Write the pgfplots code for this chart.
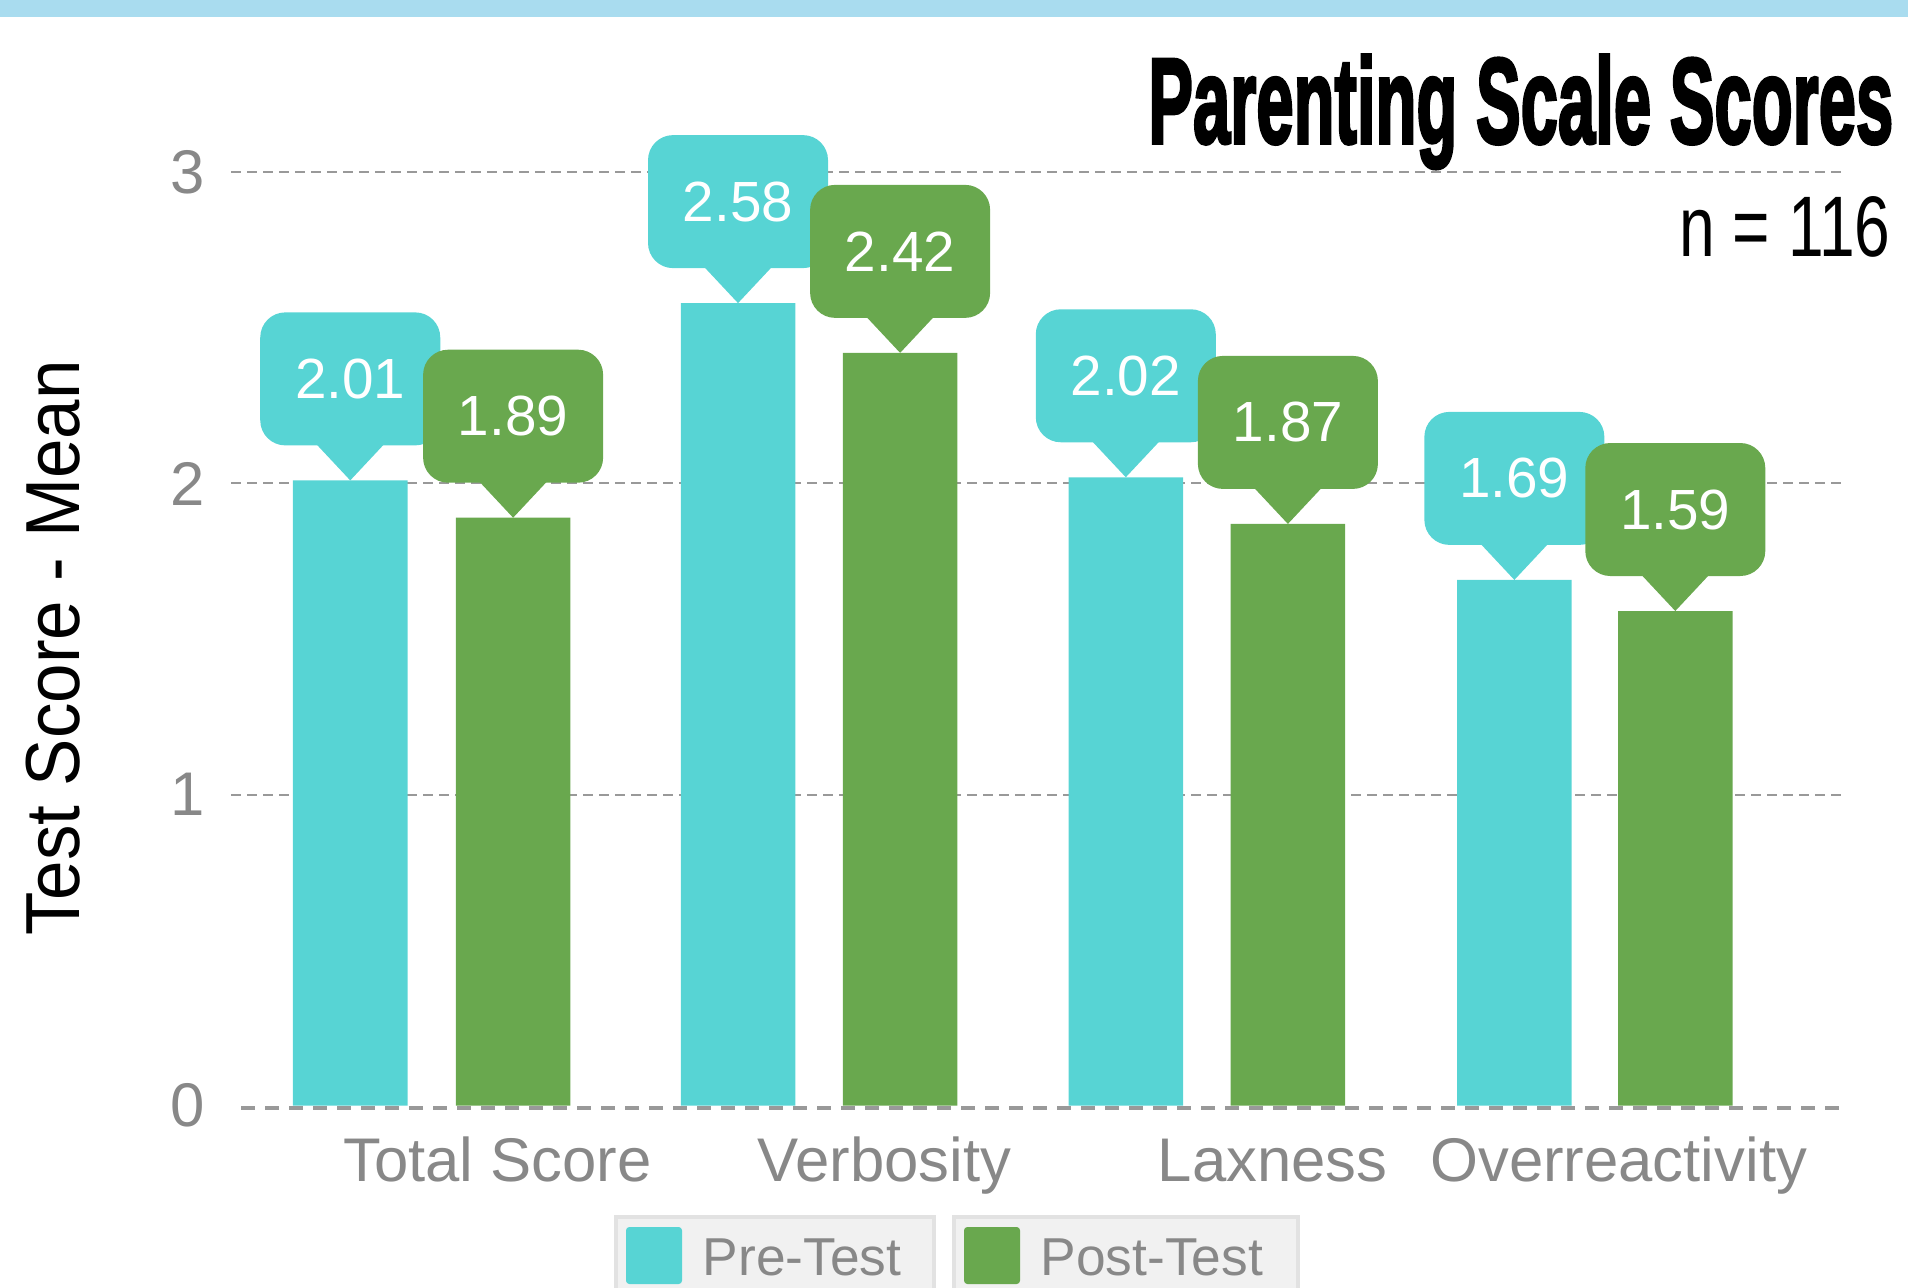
\documentclass[border=0pt]{standalone}
\usepackage{graphicx}
\usepackage{pgfplots}
\pgfplotsset{compat=1.18}
\usepackage{fontspec}
\setmainfont{Liberation Sans}
\newfontfamily\titlefont[FakeBold=3]{Liberation Sans}
\definecolor{precol}{HTML}{57D4D4}
\definecolor{postcol}{HTML}{69A84E}
\definecolor{gridgray}{HTML}{999999}
\definecolor{labgray}{HTML}{888888}
\definecolor{topband}{HTML}{A9DCEF}
\definecolor{legfill}{HTML}{F1F1F1}
\definecolor{legdraw}{HTML}{E2E2E2}
\pgfdeclareplotmark{callout}{%
  \pgfpathmoveto{\pgfqpoint{0pt}{0pt}}%
  \pgfpathlineto{\pgfqpoint{-10.3pt}{11pt}}%
  \pgfpathlineto{\pgfqpoint{10.3pt}{11pt}}%
  \pgfpathclose
  \pgfusepathqfill
  \pgfpathmoveto{\pgfqpoint{0pt}{10.5pt}}%
  \pgfpathlineto{\pgfqpoint{19.5pt}{10.5pt}}%
  \pgfpatharc{-90}{0}{7.5pt}%
  \pgfpathlineto{\pgfqpoint{27pt}{42.9pt}}%
  \pgfpatharc{0}{90}{7.5pt}%
  \pgfpathlineto{\pgfqpoint{-19.5pt}{50.4pt}}%
  \pgfpatharc{90}{180}{7.5pt}%
  \pgfpathlineto{\pgfqpoint{-27pt}{18pt}}%
  \pgfpatharc{180}{270}{7.5pt}%
  \pgfpathclose
  \pgfusepathqfill
}
\begin{document}
\begin{tikzpicture}
\useasboundingbox (0,0) rectangle (572.4pt,386.1pt);
\fill[topband] (0,381pt) rectangle (572.4pt,386.1pt);
\begin{axis}[
  at={(69.36pt,54.45pt)}, anchor=south west,
  scale only axis, width=484.41pt, height=279.9pt,
  xmin=-0.517, xmax=3.647, ymin=0, ymax=3,
  clip=false,
  axis line style={draw=none},
  tick style={draw=none}, major tick length=0pt,
  ytick={1,2,3}, extra y ticks={0}, extra y tick style={grid=none},
  ymajorgrids,
  major grid style={gridgray, line width=0.6pt, dash pattern=on 3pt off 1.8pt},
  xtick={0.170,1.168,2.169,3.061},
  xticklabels={Total Score,Verbosity,Laxness,Overreactivity},
  xticklabel style={anchor=base, inner sep=0pt, yshift=-22.85pt, text=labgray, font=\fontsize{18.5}{22}\selectfont},
  yticklabel style={anchor=east, inner sep=0pt, xshift=-7.6pt, text=labgray, font=\fontsize{18.5}{22}\selectfont},
  /pgf/number format/assume math mode=true,
  ylabel={\scalebox{0.925}[1]{Test Score - Mean}},
  every axis y label/.style={at={(axis description cs:-0.11005,0.4903)}, anchor=center, rotate=90, font=\fontsize{23}{27}\selectfont},
]
\addplot[ybar, bar width=0.2953, bar shift=0pt, fill=precol, draw=none]
  coordinates {(-0.21,2.01) (0.79,2.58) (1.79,2.02) (2.792,1.69)};
\addplot[ybar, bar width=0.2953, bar shift=0pt, fill=postcol, draw=none]
  coordinates {(0.21,1.89) (1.208,2.42) (2.208,1.87) (3.207,1.59)};
\draw[gridgray, line width=1.2pt, dash pattern=on 4.2pt off 3pt, yshift=-0.6pt] (-0.491,0) -- (3.647,0);
\addplot[only marks, mark=callout, color=precol, point meta=explicit symbolic,
  nodes near coords,
  every node near coord/.style={anchor=center, yshift=30.45pt, text=white, inner sep=0pt, font=\fontsize{17}{20}\selectfont}]
  coordinates {(-0.21,2.01) [2.01] (0.79,2.58) [2.58] (1.79,2.02) [2.02] (2.792,1.69) [1.69]};
\addplot[only marks, mark=callout, color=postcol, point meta=explicit symbolic,
  nodes near coords,
  every node near coord/.style={anchor=center, yshift=30.45pt, text=white, inner sep=0pt, font=\fontsize{17}{20}\selectfont}]
  coordinates {(0.21,1.89) [1.89] (1.208,2.42) [2.42] (2.208,1.87) [1.87] (3.207,1.59) [1.59]};
\end{axis}
\filldraw[fill=legfill, draw=legdraw, line width=1pt] (184.8pt,21pt) rectangle (280.2pt,-5pt);
\fill[precol, rounded corners=1pt] (187.8pt,0.9pt) rectangle (204.6pt,18pt);
\node[anchor=base west, inner sep=0pt, text=labgray, font=\fontsize{16}{19}\selectfont] at (210.6pt,3.6pt) {Pre-Test};
\filldraw[fill=legfill, draw=legdraw, line width=1pt] (286.2pt,21pt) rectangle (389.4pt,-5pt);
\fill[postcol, rounded corners=1pt] (289.2pt,0.9pt) rectangle (306pt,18pt);
\node[anchor=base west, inner sep=0pt, text=labgray, font=\fontsize{16}{19}\selectfont] at (312pt,3.6pt) {Post-Test};
\node[anchor=base east, inner sep=0pt] at (568.2pt,343.2pt) {\resizebox{223.5pt}{26.4pt}{\titlefont\bfseries Parenting Scale Scores}};
\node[anchor=base east, inner sep=0pt] at (567.3pt,309pt) {\resizebox{63.3pt}{18pt}{n = 116}};
\end{tikzpicture}
\end{document}
